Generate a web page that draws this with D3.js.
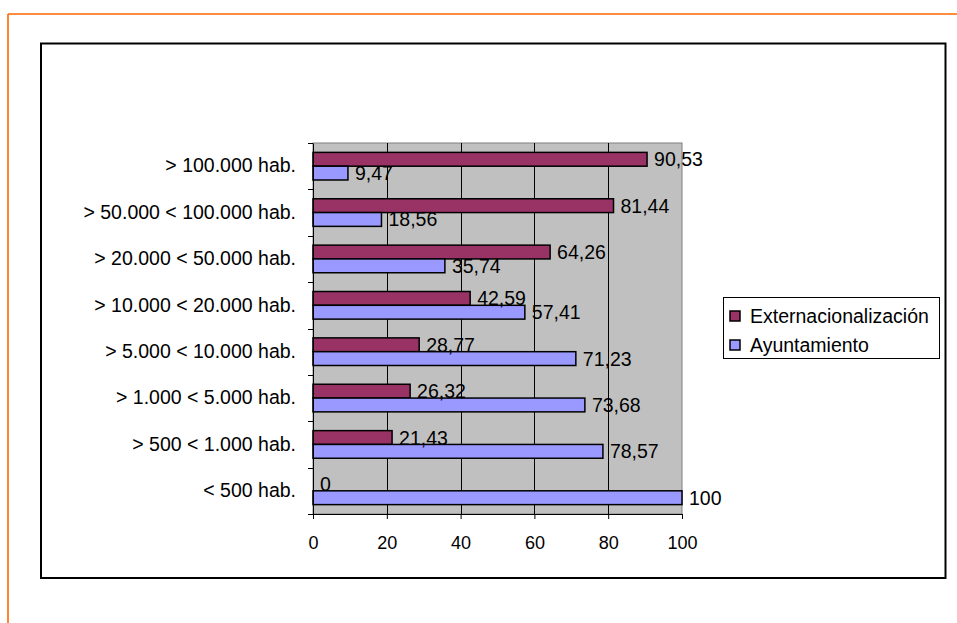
<!DOCTYPE html>
<html>
<head>
<meta charset="utf-8">
<script src="https://cdn.jsdelivr.net/npm/d3@7"></script>
<style>
  html, body { margin: 0; padding: 0; background: #fff; }
  svg { display: block; }
  text { font-family: Tahoma, "Liberation Sans", Arial, sans-serif; fill: #000; }
</style>
</head>
<body>
<svg id="chart" width="957" height="623"></svg>
<script>
// Population bands (top to bottom)
const categories = [
  "> 100.000 hab.",
  "> 50.000 < 100.000 hab.",
  "> 20.000 < 50.000 hab.",
  "> 10.000 < 20.000 hab.",
  "> 5.000 < 10.000 hab.",
  "> 1.000 < 5.000 hab.",
  "> 500 < 1.000 hab.",
  "< 500 hab."
];
const seriesNames = ["Externacionalización", "Ayuntamiento"];
const externacionalizacion = [90.53, 81.44, 64.26, 42.59, 28.77, 26.32, 21.43, 0];
const ayuntamiento = [9.47, 18.56, 35.74, 57.41, 71.23, 73.68, 78.57, 100];
const xTicks = [0, 20, 40, 60, 80, 100];
const seriesColors = ["#993366", "#9999FF"];

const svg = d3.select("#chart");
const fmt = v => String(v).replace(".", ",");
const FONT = 'Tahoma, "Liberation Sans", Arial, sans-serif';

// Outer orange frame (top and left edges)
svg.append("line").attr("x1", 8).attr("y1", 14).attr("x2", 957).attr("y2", 14)
  .attr("stroke", "#FF6600").attr("stroke-width", 1.6);
svg.append("line").attr("x1", 8).attr("y1", 14).attr("x2", 8).attr("y2", 623)
  .attr("stroke", "#FF6600").attr("stroke-width", 1.6);

// Chart area border
svg.append("rect").attr("x", 41).attr("y", 43.5).attr("width", 904.5).attr("height", 534.5)
  .attr("fill", "#fff").attr("stroke", "#000").attr("stroke-width", 2);

const plot = { left: 313, right: 682, top: 143, bottom: 514 };

const x = d3.scaleLinear().domain([0, 100]).range([plot.left, plot.right]);
const y = d3.scaleBand().domain(categories).range([plot.top, plot.bottom]).paddingInner(0).paddingOuter(0);
const inner = d3.scaleBand().domain(seriesNames).range([0, y.bandwidth()]).paddingInner(0).paddingOuter(0.68);

// Plot background
svg.append("rect").attr("x", plot.left).attr("y", plot.top)
  .attr("width", plot.right - plot.left).attr("height", plot.bottom - plot.top)
  .attr("fill", "#C0C0C0").attr("stroke", "#808080").attr("stroke-width", 1);

// Vertical gridlines
svg.append("g").selectAll("line").data(xTicks.slice(1, -1)).join("line")
  .attr("x1", d => Math.round(x(d)) + 0.5).attr("x2", d => Math.round(x(d)) + 0.5)
  .attr("y1", plot.top).attr("y2", plot.bottom)
  .attr("stroke", "#000").attr("stroke-width", 1);

// Bars
const rows = categories.map((c, i) => ({ cat: c, vals: [externacionalizacion[i], ayuntamiento[i]] }));
const groups = svg.append("g").selectAll("g").data(rows).join("g")
  .attr("transform", d => `translate(0,${y(d.cat)})`);

groups.selectAll("rect").data(d => d.vals.map((v, k) => ({ v, k }))).join("rect")
  .attr("x", x(0))
  .attr("y", d => inner(seriesNames[d.k]))
  .attr("width", d => x(d.v) - x(0))
  .attr("height", inner.bandwidth())
  .attr("fill", d => seriesColors[d.k])
  .attr("stroke", "#000").attr("stroke-width", 1.5)
  .attr("display", d => d.v === 0 ? "none" : null);

// Value labels
groups.selectAll("text").data(d => d.vals.map((v, k) => ({ v, k }))).join("text")
  .attr("x", d => x(d.v) + 7)
  .attr("y", d => inner(seriesNames[d.k]) + inner.bandwidth() / 2)
  .attr("dy", "0.36em")
  .attr("font-size", 19.5)
  .text(d => fmt(d.v));

// Bottom axis
const xAxis = svg.append("g").attr("transform", `translate(0,${plot.bottom})`)
  .call(d3.axisBottom(x).tickValues(xTicks).tickSize(5).tickPadding(17).tickFormat(d => d));
xAxis.select(".domain").attr("stroke", "#000").attr("stroke-width", 1);
xAxis.selectAll("text").attr("font-size", 18).attr("font-family", FONT);

// Left axis
const yAxis = svg.append("g").attr("transform", `translate(${plot.left},0)`)
  .call(d3.axisLeft(y).tickSize(0).tickPadding(17));
yAxis.select(".domain").attr("stroke", "#000").attr("stroke-width", 1);
yAxis.selectAll("text").attr("font-size", 19.5).attr("font-family", FONT);
// tick marks at band boundaries
svg.append("g").selectAll("line").data(d3.range(categories.length + 1)).join("line")
  .attr("x1", plot.left - 5).attr("x2", plot.left)
  .attr("y1", i => Math.round(plot.top + i * y.step()) + 0.5)
  .attr("y2", i => Math.round(plot.top + i * y.step()) + 0.5)
  .attr("stroke", "#000");

// Legend
const lg = svg.append("g").attr("transform", "translate(723,297)");
lg.append("rect").attr("x", 0.5).attr("y", 0.5).attr("width", 216).attr("height", 61)
  .attr("fill", "#fff").attr("stroke", "#000").attr("stroke-width", 1);
seriesNames.forEach((name, k) => {
  const ry = 19 + k * 29;
  lg.append("rect").attr("x", 7).attr("y", ry - 5).attr("width", 10).attr("height", 10)
    .attr("fill", seriesColors[k]).attr("stroke", "#000").attr("stroke-width", 1.5);
  lg.append("text").attr("x", 27).attr("y", ry).attr("dy", "0.36em")
    .attr("font-size", 19.5).text(name);
});
</script>
</body>
</html>
